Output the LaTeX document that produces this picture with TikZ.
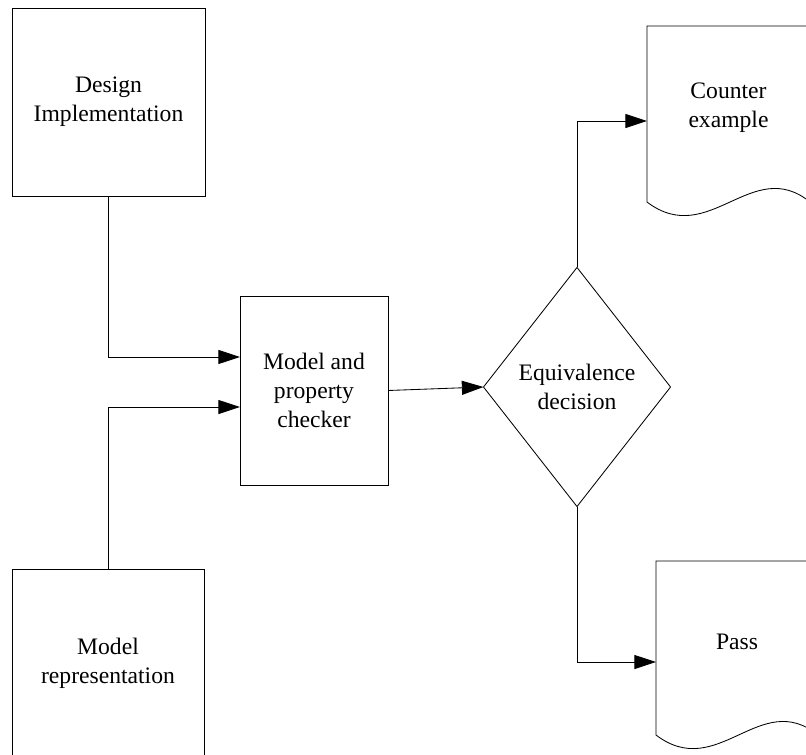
\documentclass[tikz,border=0pt]{standalone}
\usepackage{fontspec}
\setmainfont{Liberation Serif}
\usepackage{tikz}
\usetikzlibrary{arrows.meta,positioning,shapes.geometric}

\tikzset{
  box/.style={draw, line width=0.6pt, inner sep=0pt, outer sep=0pt, align=center},
  decisionbox/.style={draw, diamond, line width=0.6pt, inner sep=0pt, outer sep=0pt, align=center,
    minimum width=4.675cm, minimum height=5.975cm},
  docbox/.style={inner sep=0pt, outer sep=0pt, align=center, minimum width=4.075cm, minimum height=4.075cm},
  flow/.style={line width=0.6pt, -{Triangle[length=5.4mm,width=3.5mm]}},
}

% outline of a document shape: wavy bottom below the node
\newcommand{\docoutline}[2]{%
  \draw[line width=0.6pt] (#1.south east) ++(0,#2) coordinate (#1-se)
    (#1.south west) ++(0,#2) coordinate (#1-sw)
    (#1-se) -- (#1.north east) -- (#1.north west) -- (#1-sw)
    .. controls +(62,47) and +(-58,-47) .. (#1-se);}

\begin{document}
\begin{tikzpicture}[x=0.025cm, y=-0.025cm, font=\fontsize{16.8}{20.6}\selectfont]
        \clip (0,0) rectangle (806,754);

        % Inputs
        \node[box, minimum width=4.825cm, minimum height=4.7cm] (design) at (108.5,102) {Design\\Implementation};
        \node[box, minimum width=4.8cm, minimum height=4.7cm] (modelrep) at (108,663) {Model\\representation};

        % Checker and decision
        \node[box, minimum width=3.7cm, minimum height=4.725cm] (checker) at (314,390.5) {Model and\\property\\checker};
        \node[decisionbox] (decision) at (577,387) {Equivalence\\decision};

        % Results
        \node[docbox] (counter) at (728.5,107.5) {Counter\\example};
        \docoutline{counter}{13}
        \node[docbox, minimum width=4.05cm, minimum height=4.05cm] (pass) at (737,642) {Pass};
        \docoutline{pass}{12}

        % Connectors
        \draw[flow] (design.south) |- ([yshift=0.8375cm]checker.west);
        \draw[flow] (modelrep.north) |- ([yshift=-0.4125cm]checker.west);
        \draw[flow] (checker.east) -- (decision.west);
        \draw[flow] (decision.north) |- ([yshift=-0.3375cm]counter.west);
        \draw[flow] (decision.south) |- ([yshift=-0.5cm]pass.west);
    \end{tikzpicture}
\end{document}
